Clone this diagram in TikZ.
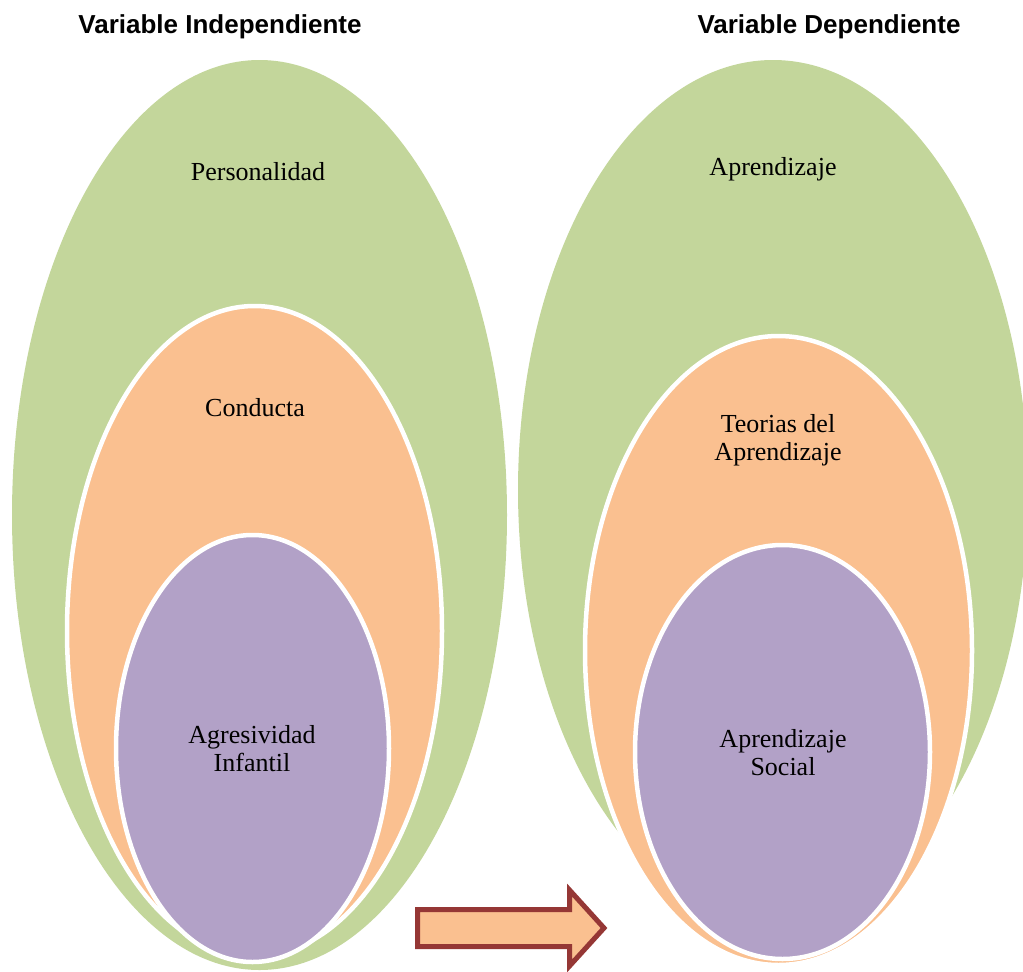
\documentclass[tikz,border=0pt]{standalone}
\usepackage{fontspec}
\setmainfont{Liberation Serif}
\newfontfamily\titlefont{Liberation Sans}
\usetikzlibrary{shapes.geometric}
\definecolor{vgreen}{HTML}{C3D69B}
\definecolor{vorange}{HTML}{FAC090}
\definecolor{vpurple}{HTML}{B2A1C7}
\definecolor{vborder}{HTML}{953735}
\tikzset{
  blob/.style={ellipse, inner sep=0pt, outer sep=0pt},
  greenblob/.style={blob, fill=vgreen},
  ringblob/.style={blob, draw=white, line width=4.5pt},
  lbl/.style={font=\fontsize{26}{28}\selectfont, align=center, inner sep=0pt, anchor=base},
  ttl/.style={font=\titlefont\bfseries\fontsize{26}{28}\selectfont, inner sep=0pt, anchor=base},
  blockarrow/.style={fill=vorange, draw=vborder, line width=5pt, miter limit=10}
}
\begin{document}
\begin{tikzpicture}[x=1pt,y=-1pt]
\useasboundingbox (0,0) rectangle (1023,972);
\begin{scope}
\clip (0,0) rectangle (1023,972);
% left stack
\node[greenblob, minimum width=495pt, minimum height=910pt] (lg) at (259.5,515) {};
\node[ringblob, fill=vorange, minimum width=375pt, minimum height=650pt] (lo) at (254.5,631) {};
\node[ringblob, fill=vpurple, minimum width=273pt, minimum height=427pt] (lp) at (252.5,748.5) {};
% right stack
\node[greenblob, minimum width=510pt, minimum height=860pt] (rg) at (773,490) {};
\node[ringblob, fill=vorange, minimum width=387pt, minimum height=629pt] (ro) at (778.5,650.5) {};
\node[ringblob, fill=vpurple, minimum width=295pt, minimum height=414pt] (rp) at (782.5,752) {};
\end{scope}
% titles
\node[ttl] (t1) at (220,33) {Variable Independiente};
\node[ttl] (t2) at (829,33) {Variable Dependiente};
% labels
\node[lbl] (personalidad) at (258,180) {Personalidad};
\node[lbl] (conducta) at (255,416) {Conducta};
\node[lbl] (agres) at (252,771) {Agresividad\\Infantil};
\node[lbl] (aprend) at (773,175) {Aprendizaje};
\node[lbl] (teorias) at (778,460) {Teorias del\\Aprendizaje};
\node[lbl] (social) at (783,775) {Aprendizaje\\Social};
% block arrow
\draw[blockarrow] (417.5,909.5) -- (569.5,909.5) -- (569.5,890) -- (604,928)
  -- (569.5,966) -- (569.5,946.5) -- (417.5,946.5) -- cycle;
\end{tikzpicture}
\end{document}
